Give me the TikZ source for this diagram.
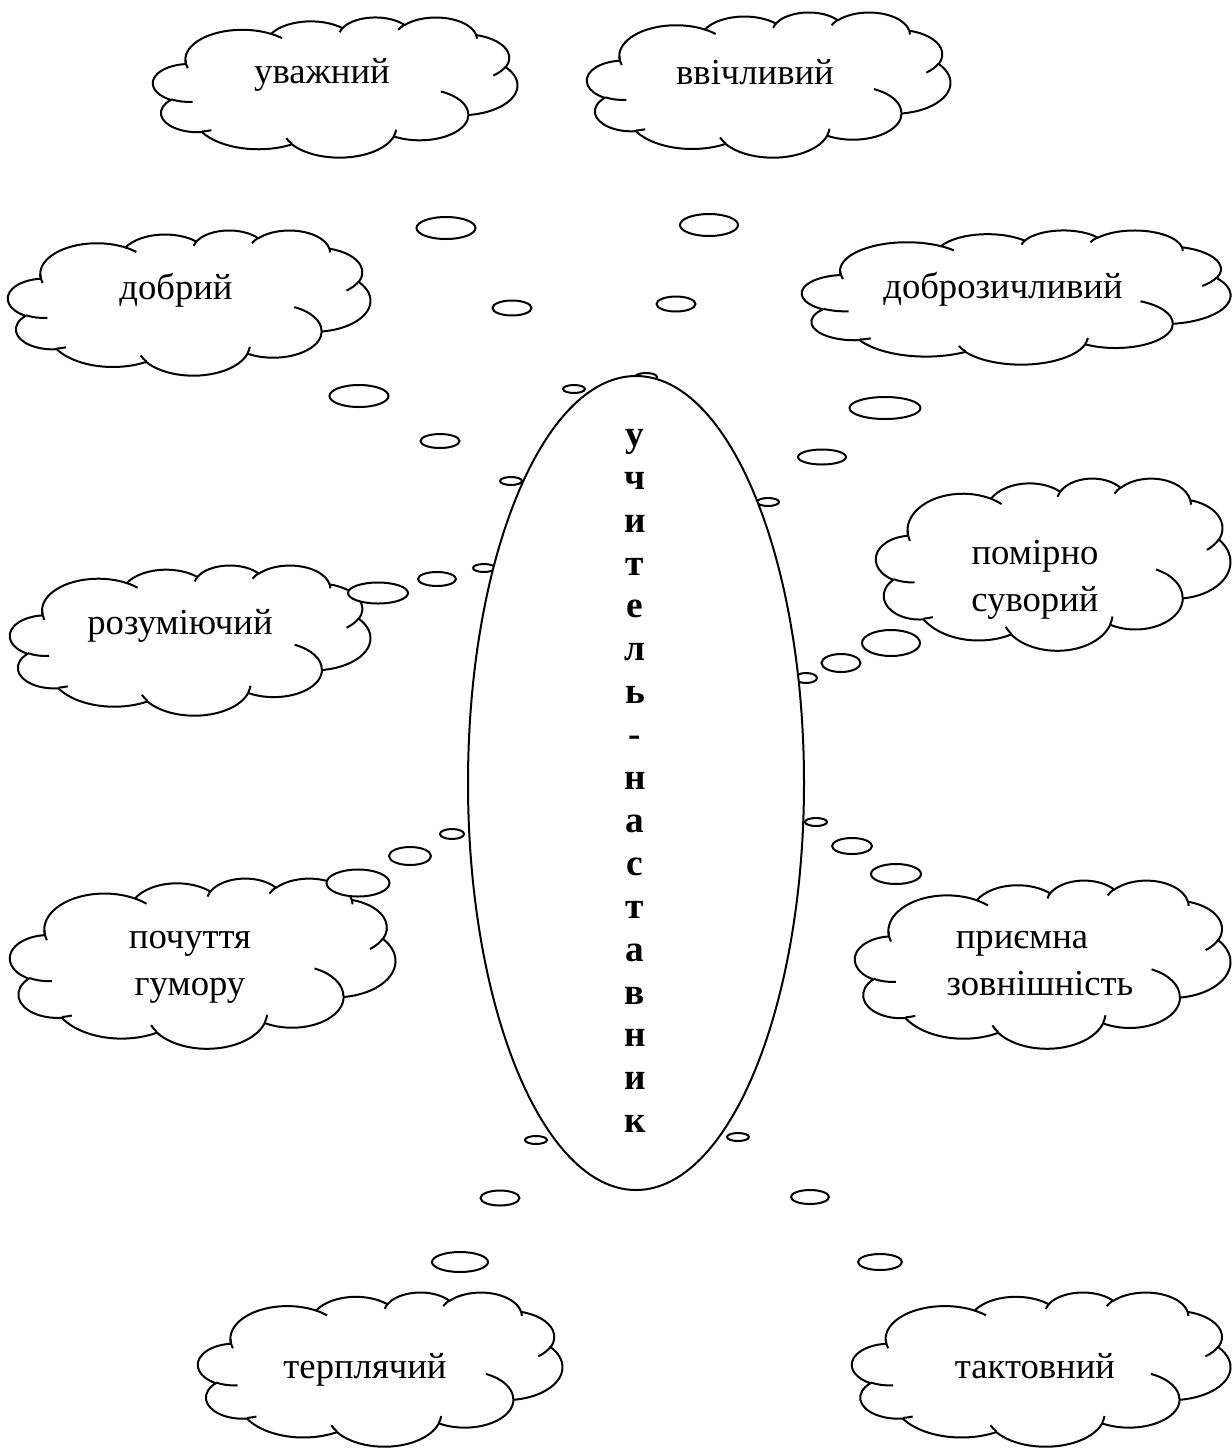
\documentclass[tikz,border=0pt]{standalone}
\usepackage{fontspec}
\setmainfont{Liberation Serif}[BoldFont={Liberation Serif Bold}]
\usetikzlibrary{shapes.geometric}
\tikzset{
  cloudline/.style={line width=1.5pt, line join=round},
  tail/.style 2 args={ellipse, draw, fill=white, line width=1.5pt, inner sep=0pt, outer sep=0pt,
    minimum width=#1*0.75pt, minimum height=#2*0.75pt},
  lbl/.style={font=\fontsize{27.5}{33}\selectfont, inner sep=0pt, anchor=base},
  bigletter/.style={font=\bfseries\fontsize{28}{33}\selectfont, inner sep=0pt, anchor=base},
}
% Word-style cloud, bounding box (x0,y0) width w height h (pixels, y down)
\newcommand\wordcloud[4]{%
  \pgfmathsetlengthmacro\cwx{#3*0.0075pt}%
  \pgfmathsetlengthmacro\cwy{-#4*0.0075pt}%
  \begin{scope}[shift={(#1,#2)}, x=\cwx, y=\cwy]
    \filldraw[cloudline, fill=white] (9.028,33.264)
      arc[start angle=-187.745, end angle=-59.635, x radius=15.632, y radius=21.273]
      arc[start angle=-152.02, end angle=-45.44, x radius=12.345, y radius=16.822]
      arc[start angle=-153.48, end angle=-37.32, x radius=10.104, y radius=13.762]
      arc[start angle=-139.70, end angle=-10.21, x radius=11.243, y radius=15.266]
      arc[start angle=-74.77, end angle=23.21, x radius=12.345, y radius=16.836]
      arc[start angle=-37.52, end angle=81.86, x radius=15.683, y radius=21.343]
      arc[start angle=0.46, end angle=121.98, x radius=13.391, y radius=18.211]
      arc[start angle=16.85, end angle=146.26, x radius=15.630, y radius=21.331]
      arc[start angle=58.98, end angle=150.19, x radius=17.870, y radius=24.405]
      arc[start angle=83.31, end angle=223.13, x radius=10.093, y radius=13.699]
      arc[start angle=120.36, end angle=264.11, x radius=10.058, y radius=13.762]
      -- cycle;
    \draw[cloudline]
      (10.863,60.595) arc[start angle=85.55, end angle=120.36, x radius=10.058, y radius=13.762]
      (16.037,80.785) arc[start angle=68.24, end angle=83.31, x radius=10.093, y radius=13.699]
      (38.144,90.486) arc[start angle=146.26, end angle=158.47, x radius=15.630, y radius=21.331]
      (66.729,80.442) arc[start angle=4.74, end angle=16.85, x radius=15.630, y radius=21.331]
      (79.002,53.134) arc[start angle=-64.03, end angle=0.46, x radius=13.391, y radius=18.211]
      (96.755,35.542) arc[start angle=23.21, end angle=49.64, x radius=12.345, y radius=16.836]
      (88.713,12.560) arc[start angle=-10.21, end angle=0.82, x radius=11.243, y radius=15.266]
      (67.310,9.148) arc[start angle=-156.28, end angle=-139.70, x radius=11.243, y radius=15.266]
      (51.252,10.926) arc[start angle=-167.73, end angle=-153.73, x radius=10.104, y radius=13.762]
      (32.407,12.019) arc[start angle=-59.635, end angle=-45.72, x radius=15.632, y radius=21.273]
      (9.553,36.549) arc[start angle=163.64, end angle=180.21, x radius=15.632, y radius=21.273];
  \end{scope}}
\begin{document}
\begin{tikzpicture}[x=0.75pt, y=-0.75pt]
  \fill[white] (0,0) rectangle (1232,1454);
  \useasboundingbox (0,0) rectangle (1232,1454);

  % clouds
  \wordcloud{153}{17}{364}{140}
  \wordcloud{587}{12}{363}{145}
  \wordcloud{8}{230}{362}{145}
  \wordcloud{802}{230}{428}{134}
  \wordcloud{876}{478}{354}{172}
  \wordcloud{10}{565}{360}{150}
  \wordcloud{10}{878}{385}{170}
  \wordcloud{855}{880}{375}{168}
  \wordcloud{198}{1292}{364}{154}
  \wordcloud{852}{1292}{378}{154}

  % callout tails
  \node[tail={59}{22}] (a1) at (446,228) {};
  \node[tail={39}{15}] (a2) at (512,308) {};
  \node[tail={22}{8}]  (a3) at (574,389) {};
  \node[tail={58}{22}] (b1) at (709,225) {};
  \node[tail={39}{15}] (b2) at (676,304) {};
  \node[tail={22}{8}]  (b3) at (646,377) {};
  \node[tail={59}{22}] (c1) at (359,396) {};
  \node[tail={39}{14}] (c2) at (440,441) {};
  \node[tail={22}{8}]  (c3) at (511,481) {};
  \node[tail={71}{22}] (d1) at (885,408) {};
  \node[tail={48}{15}] (d2) at (822,457) {};
  \node[tail={22}{8}]  (d3) at (768,502) {};
  \node[tail={60}{21}] (e1) at (378,593) {};
  \node[tail={38}{14}] (e2) at (437,579) {};
  \node[tail={22}{8}]  (e3) at (484,568) {};
  \node[tail={58}{26}] (f1) at (891,643) {};
  \node[tail={39}{18}] (f2) at (841,663) {};
  \node[tail={22}{10}] (f3) at (806,678) {};
  \node[tail={63}{27}] (g1) at (358,883) {};
  \node[tail={42}{18}] (g2) at (410,856) {};
  \node[tail={24}{10}] (g3) at (452,834) {};
  \node[tail={50}{20}] (h1) at (896,874) {};
  \node[tail={40}{16}] (h2) at (852,846) {};
  \node[tail={22}{8}]  (h3) at (816,822) {};
  \node[tail={56}{20}] (i1) at (460,1262) {};
  \node[tail={39}{15}] (i2) at (500,1198) {};
  \node[tail={22}{8}]  (i3) at (536,1140) {};
  \node[tail={44}{16}] (j1) at (880,1262) {};
  \node[tail={38}{14}] (j2) at (810,1197) {};
  \node[tail={22}{8}]  (j3) at (738,1137) {};

  % central ellipse
  \node[ellipse, draw, fill=white, line width=1.5pt, inner sep=0pt,
        minimum width=336*0.75pt, minimum height=814*0.75pt] (main) at (636,783) {};
  \foreach \c [count=\i from 0] in {у,ч,и,т,е,л,ь,-,н,а,с,т,а,в,н,и,к}
    \node[bigletter] (m\i) at (635,{446.3+\i*42.9}) {\c};

  % labels
  \node[lbl] (t1) at (322,83) {уважний};
  \node[lbl] (t2) at (755,84) {ввічливий};
  \node[lbl] (t3) at (176,299) {добрий};
  \node[lbl] (t4) at (1003,298) {доброзичливий};
  \node[lbl] (t5a) at (1035,564) {помірно};
  \node[lbl] (t5b) at (1035,611) {суворий};
  \node[lbl] (t6) at (180,634) {розуміючий};
  \node[lbl] (t7a) at (190,948) {почуття};
  \node[lbl] (t7b) at (190,995) {гумору};
  \node[lbl] (t8a) at (1022,948) {приємна};
  \node[lbl] (t8b) at (1040,995) {зовнішність};
  \node[lbl] (t9) at (365,1378) {терплячий};
  \node[lbl] (t10) at (1035,1378) {тактовний};
\end{tikzpicture}
\end{document}
